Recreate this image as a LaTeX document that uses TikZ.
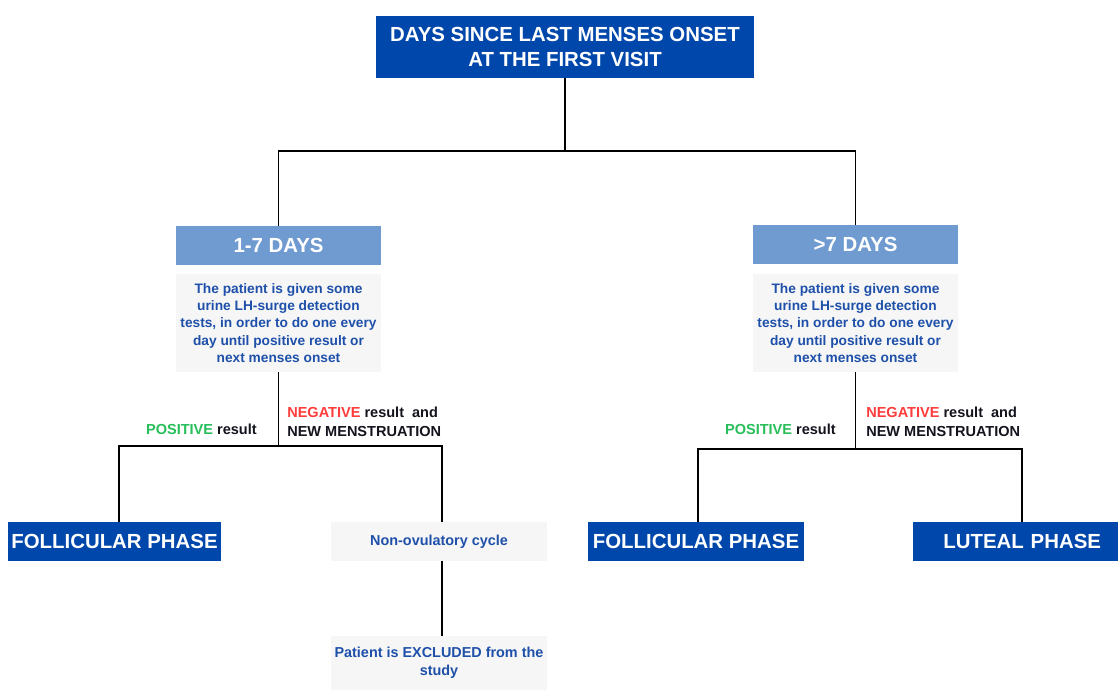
\documentclass[tikz,border=0pt]{standalone}
\usepackage{fontspec}
\setmainfont{Liberation Sans}
\definecolor{darkblue}{RGB}{0,71,171}
\definecolor{lightblue}{RGB}{111,155,209}
\definecolor{boxgray}{RGB}{246,246,246}
\definecolor{infoblue}{RGB}{30,80,170}
\definecolor{posgreen}{RGB}{40,190,90}
\definecolor{negred}{RGB}{255,60,60}
\definecolor{labelblack}{RGB}{20,20,30}

\begin{document}
\begin{tikzpicture}[x=0.75pt,y=-0.75pt,
  phasebox/.style={rectangle,fill=darkblue,text=white,inner sep=0pt,
    font=\fontsize{15.3}{18.75}\selectfont\bfseries,align=center},
  daysbox/.style={rectangle,fill=lightblue,text=white,inner sep=0pt,
    minimum width=205*0.75pt,minimum height=39*0.75pt,
    font=\fontsize{15.3}{18}\selectfont\bfseries},
  infobox/.style={rectangle,fill=boxgray,text=infoblue,inner sep=0pt,
    font=\fontsize{10.3}{13}\selectfont\bfseries,align=center},
  branchlabel/.style={inner sep=0pt,text=labelblack,
    font=\fontsize{10.9}{14.25}\selectfont\bfseries,align=left},
  wire/.style={draw=black,line width=1.4pt}]
\useasboundingbox[fill=white] (0,0) rectangle (1118,690);
% Drawing boxes
\node[phasebox,minimum width=378*0.75pt,minimum height=62*0.75pt] (onset) at (565,47)
  {DAYS SINCE LAST MENSES ONSET\\AT THE FIRST VISIT};
\node[daysbox] (early) at (278.5,245.5) {1-7 DAYS};
\node[daysbox] (late) at (855.5,244.5) {>7 DAYS};
\node[infobox,minimum width=205*0.75pt,minimum height=98*0.75pt] (testsA) at (278.5,323)
  {The patient is given some\\urine LH-surge detection\\tests, in order to do one every\\day until positive result or\\next menses onset};
\node[infobox,minimum width=205*0.75pt,minimum height=98*0.75pt] (testsB) at (855.5,323)
  {The patient is given some\\urine LH-surge detection\\tests, in order to do one every\\day until positive result or\\next menses onset};
\node[phasebox,minimum width=213*0.75pt,minimum height=39*0.75pt] (follA) at (114.5,541.5) {FOLLICULAR PHASE};
\node[infobox,font=\fontsize{10.8}{13.5}\selectfont\bfseries,minimum width=216*0.75pt,minimum height=39*0.75pt] (nonov) at (439,541.5) {Non-ovulatory cycle};
\node[infobox,font=\fontsize{10.8}{13.5}\selectfont\bfseries,minimum width=216*0.75pt,minimum height=54*0.75pt] (excl) at (439,663)
  {Patient is EXCLUDED from the\\study};
\node[phasebox,minimum width=216*0.75pt,minimum height=39*0.75pt] (follB) at (696,541.5) {FOLLICULAR PHASE};
\node[phasebox,minimum width=205*0.75pt,minimum height=39*0.75pt,text width=205*0.75pt-34*0.75pt,
  align=right] (luteal) at (1015.5,541.5) {LUTEAL PHASE};
% Branch points
\coordinate (splitTop) at (565,151);
\coordinate (splitA) at (278.5,446);
\coordinate (splitB) at (855.5,449);
% Drawing connectors
\draw[wire] (onset.south) -- (splitTop);
\draw[wire] (early.north) |- (splitTop) -| (late.north);
\draw[wire] (testsA.south) -- (splitA);
\draw[wire] ([xshift=4.5*0.75pt]follA.north) |- (splitA) -| ([xshift=3*0.75pt]nonov.north);
\draw[wire] ([xshift=3*0.75pt]nonov.south) -- ([xshift=3*0.75pt]excl.north);
\draw[wire] (testsB.south) -- (splitB);
\draw[wire] ([xshift=2*0.75pt]follB.north) |- (splitB) -| ([xshift=6.5*0.75pt]luteal.north);
% Branch labels
\node[branchlabel,anchor=east] (posA) at (257,429) {\textcolor{posgreen}{POSITIVE} result};
\node[branchlabel,anchor=west] (negA) at (287,422) {\textcolor{negred}{NEGATIVE} result\ \ and\\NEW MENSTRUATION};
\node[branchlabel,anchor=east] (posB) at (836,429) {\textcolor{posgreen}{POSITIVE} result};
\node[branchlabel,anchor=west] (negB) at (866,422) {\textcolor{negred}{NEGATIVE} result\ \ and\\NEW MENSTRUATION};
\end{tikzpicture}
\end{document}
